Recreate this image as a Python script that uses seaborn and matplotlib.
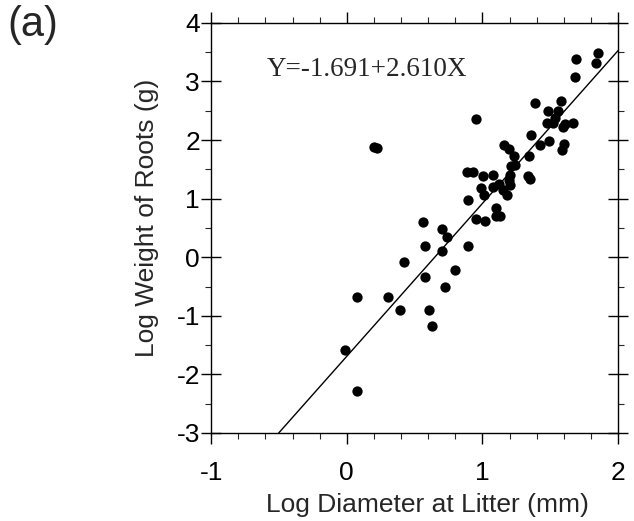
import numpy as np
import pandas as pd
import seaborn as sns
import matplotlib
matplotlib.use("Agg")
from matplotlib import pyplot as plt
from matplotlib.ticker import MultipleLocator

# points (log diameter, log weight)
log_diam = [1.855, 1.689, 1.840, 1.679, 1.387, 1.581, 1.483, 1.556, 1.534,
            1.473, 1.517, 1.590, 1.664, 1.605, 0.951, 0.200, 0.220,
            1.358, 1.426, 1.493, 1.603, 1.586, 1.157, 1.199, 1.235, 1.346,
            1.211, 1.240, 0.885, 0.929, 1.002, 1.076, 1.206, 1.333, 1.350,
            1.199, 1.206, 1.076, 1.125, 0.990, 1.010, 1.150, 1.180, 0.892,
            1.100, 1.100, 1.130, 0.949, 1.015,
            0.561, 0.701, 0.735, 0.576, 0.890, 0.701, 0.424, 0.796, 0.576,
            0.725, 0.078, 0.306, 0.390, 0.608, 0.627, -0.012, 0.076]
log_weight = [3.48, 3.38, 3.31, 3.07, 2.63, 2.67, 2.50, 2.50, 2.37,
              2.29, 2.29, 2.22, 2.30, 2.27, 2.36, 1.89, 1.87,
              2.09, 1.92, 1.98, 1.93, 1.83, 1.92, 1.84, 1.73, 1.73,
              1.55, 1.58, 1.46, 1.45, 1.38, 1.41, 1.41, 1.39, 1.33,
              1.32, 1.24, 1.20, 1.25, 1.18, 1.06, 1.15, 1.06, 0.97,
              0.84, 0.71, 0.71, 0.65, 0.61,
              0.60, 0.48, 0.34, 0.19, 0.19, 0.11, -0.09, -0.22, -0.34,
              -0.50, -0.68, -0.68, -0.90, -0.90, -1.18, -1.59, -2.28]

intercept = -1.691
slope = 2.610
fit_label = "Y=-1.691+2.610X"

df = pd.DataFrame({"x": log_diam, "y": log_weight})

sns.set_style("ticks")
plt.rcParams["font.family"] = ["Liberation Sans", "DejaVu Sans"]
plt.rcParams["axes.unicode_minus"] = False

fig = plt.figure(figsize=(6.34, 5.21), dpi=100)
ax = fig.add_axes([0.333, 0.169, 0.642, 0.787])

sns.scatterplot(data=df, x="x", y="y", color="black", s=55, linewidth=0, ax=ax)

xs = np.array([(-3 - intercept) / slope, 2.0])
ax.plot(xs, intercept + slope * xs, color="black", lw=1.0)

ax.text(-0.59, 3.2, fit_label, family="Liberation Serif", fontsize=19.5,
        va="center", ha="left")

ax.set_xlim(-1, 2)
ax.set_ylim(-3, 4)
ax.xaxis.set_major_locator(MultipleLocator(1))
ax.xaxis.set_minor_locator(MultipleLocator(0.2))
ax.yaxis.set_major_locator(MultipleLocator(1))
ax.yaxis.set_minor_locator(MultipleLocator(0.5))
for s in ax.spines.values():
    s.set_visible(True)
    s.set_linewidth(1.0)
    s.set_color("black")

ax.tick_params(axis="x", which="major", direction="out", length=8, width=1.0,
               labelsize=19, top=True, pad=12, colors="black")
ax.tick_params(axis="y", which="major", direction="inout", length=14, width=1.0,
               labelsize=19, right=True, pad=1, colors="black")
ax.tick_params(which="minor", direction="out", length=4, width=0.8,
               top=True, right=True)
ax.set_xlabel("Log Diameter at Litter (mm)", fontsize=19)
ax.set_ylabel("Log Weight of Roots (g)", fontsize=19)
ax.xaxis.label.set_va("center")
ax.yaxis.label.set_va("center")
ax.xaxis.set_label_coords(0.531, -0.176)
ax.yaxis.set_label_coords(-0.157, 0.524)

fig.text(0.012, 0.99, "(a)", fontsize=30, va="top", ha="left")

fig.savefig("out.png", dpi=100)
